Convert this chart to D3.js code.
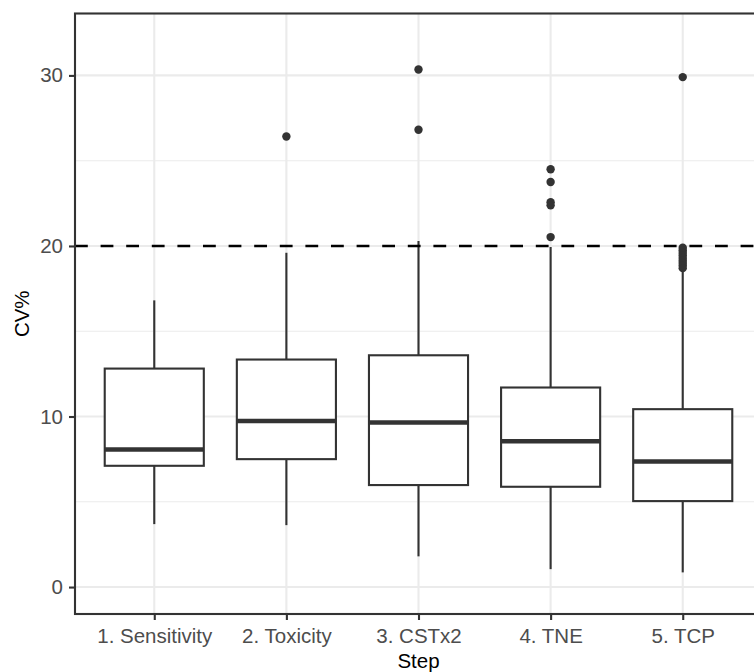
<!DOCTYPE html>
<html>
<head>
<meta charset="utf-8">
<script src="https://cdn.jsdelivr.net/npm/d3@7/dist/d3.min.js"></script>
<style>
  html, body { margin: 0; padding: 0; background: #fff; }
  svg { display: block; }
</style>
</head>
<body>
<svg id="chart" width="754" height="672"></svg>
<script>
// ---- data ----
const categories = ["1. Sensitivity", "2. Toxicity", "3. CSTx2", "4. TNE", "5. TCP"];
const whiskerLow  = [3.69, 3.63, 1.80, 1.05, 0.86];
const q1          = [7.11, 7.50, 5.98, 5.88, 5.04];
const median      = [8.07, 9.74, 9.65, 8.55, 7.36];
const q3          = [12.81, 13.34, 13.59, 11.70, 10.43];
const whiskerHigh = [16.81, 19.60, 20.29, 19.94, 18.55];
const outliers = [
  [],
  [26.42],
  [26.81, 30.35],
  [24.50, 23.75, 22.57, 22.38, 20.52],
  [29.90, 19.90, 19.75, 19.60, 19.45, 19.30, 19.15, 19.00, 18.85, 18.70]
];
const yTicks = [0, 10, 20, 30];
const yMinor = [5, 15, 25];
const refLine = 20;

// ---- layout ----
const svg = d3.select("#chart");
const pLeft = 75, pTop = 13.5, pBottom = 614, pRight = 762;
const x = d3.scaleLinear().domain([-0.6, categories.length - 1 + 0.6]).range([pLeft, pRight]);
const y = d3.scaleLinear().domain([-1.58, 33.63]).range([pBottom, pTop]);
const boxHalf = 0.375;
const ink = "#333333";
const font = "Liberation Sans, Arial, sans-serif";
const fs = "20.5px";

const g = svg.append("g");
g.append("rect").attr("x", pLeft).attr("y", pTop).attr("width", pRight - pLeft).attr("height", pBottom - pTop).attr("fill", "#fff");

// minor grid
g.selectAll(".minor").data(yMinor).enter().append("line")
  .attr("x1", pLeft).attr("x2", pRight)
  .attr("y1", d => y(d)).attr("y2", d => y(d))
  .attr("stroke", "#EBEBEB").attr("stroke-width", 1.1);
// major grid
g.selectAll(".majorY").data(yTicks).enter().append("line")
  .attr("x1", pLeft).attr("x2", pRight)
  .attr("y1", d => y(d)).attr("y2", d => y(d))
  .attr("stroke", "#EBEBEB").attr("stroke-width", 2.1);
g.selectAll(".majorX").data(categories).enter().append("line")
  .attr("x1", (d, i) => x(i)).attr("x2", (d, i) => x(i))
  .attr("y1", pTop).attr("y2", pBottom)
  .attr("stroke", "#EBEBEB").attr("stroke-width", 2.1);

// boxes
const boxes = g.selectAll(".box").data(categories).enter().append("g");
boxes.append("line")
  .attr("x1", (d, i) => x(i)).attr("x2", (d, i) => x(i))
  .attr("y1", (d, i) => y(q3[i])).attr("y2", (d, i) => y(whiskerHigh[i]))
  .attr("stroke", ink).attr("stroke-width", 2.1);
boxes.append("line")
  .attr("x1", (d, i) => x(i)).attr("x2", (d, i) => x(i))
  .attr("y1", (d, i) => y(q1[i])).attr("y2", (d, i) => y(whiskerLow[i]))
  .attr("stroke", ink).attr("stroke-width", 2.1);
boxes.append("rect")
  .attr("x", (d, i) => x(i - boxHalf))
  .attr("width", (d, i) => x(i + boxHalf) - x(i - boxHalf))
  .attr("y", (d, i) => y(q3[i]))
  .attr("height", (d, i) => y(q1[i]) - y(q3[i]))
  .attr("fill", "#fff").attr("stroke", ink).attr("stroke-width", 2.1);
boxes.append("line")
  .attr("x1", (d, i) => x(i - boxHalf)).attr("x2", (d, i) => x(i + boxHalf))
  .attr("y1", (d, i) => y(median[i])).attr("y2", (d, i) => y(median[i]))
  .attr("stroke", ink).attr("stroke-width", 4.5);

// outliers
categories.forEach((c, i) => {
  g.selectAll(null).data(outliers[i]).enter().append("circle")
    .attr("cx", x(i)).attr("cy", d => y(d)).attr("r", 4.2)
    .attr("fill", ink);
});

// reference line
g.append("line")
  .attr("x1", pLeft).attr("x2", pRight)
  .attr("y1", y(refLine)).attr("y2", y(refLine))
  .attr("stroke", "#000").attr("stroke-width", 2.6)
  .attr("stroke-dasharray", "12.8,12.8");

// panel border
g.append("rect").attr("x", pLeft).attr("y", pTop).attr("width", pRight - pLeft).attr("height", pBottom - pTop)
  .attr("fill", "none").attr("stroke", ink).attr("stroke-width", 2.1);

// axes
const yAxis = d3.axisLeft(y).tickValues(yTicks).tickSize(6).tickPadding(6);
const ya = svg.append("g").attr("transform", `translate(${pLeft},0)`).call(yAxis);
ya.select(".domain").remove();
ya.selectAll(".tick line").attr("stroke", ink).attr("stroke-width", 2.1);
ya.selectAll(".tick text").attr("fill", "#4D4D4D").style("font-family", font).style("font-size", fs);

const xAxis = d3.axisBottom(x).tickValues(d3.range(categories.length)).tickFormat(i => categories[i]).tickSize(6).tickPadding(8.3);
const xa = svg.append("g").attr("transform", `translate(0,${pBottom})`).call(xAxis);
xa.select(".domain").remove();
xa.selectAll(".tick line").attr("stroke", ink).attr("stroke-width", 2.1);
xa.selectAll(".tick text").attr("fill", "#4D4D4D").style("font-family", font).style("font-size", fs);

// titles
svg.append("text").attr("x", (pLeft + pRight) / 2).attr("y", 668)
  .attr("text-anchor", "middle").attr("fill", "#000")
  .style("font-family", font).style("font-size", fs).text("Step");
svg.append("text").attr("transform", `translate(28.5,${(pTop + pBottom) / 2}) rotate(-90)`)
  .attr("text-anchor", "middle").attr("fill", "#000")
  .style("font-family", font).style("font-size", fs).text("CV%");
</script>
</body>
</html>
